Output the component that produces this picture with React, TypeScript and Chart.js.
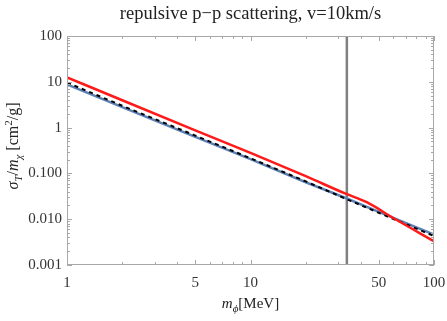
import React, { useEffect, useRef } from "react";
import { Chart, registerables } from "chart.js";
Chart.register(...registerables);

// ---- data ----
const redPhi = [1, 2, 5, 10, 20, 33, 43, 60, 100];
const redVals = [12.5, 3.95, 0.87, 0.28, 0.087, 0.036, 0.0235, 0.0106, 0.0033];
const bluePhi = [1, 2, 5, 10, 20, 33, 50, 100];
const blueVals = [8.8, 2.8, 0.63, 0.205, 0.064, 0.029, 0.0145, 0.0046];
const blackPhi = [1, 2, 5, 10, 20, 33, 50, 100];
const blackVals = [9.6, 3.0, 0.67, 0.214, 0.067, 0.028, 0.0138, 0.0043];
const vLineX = 33.5;
const yRange = [0.001, 100];
const xRange = [1, 100];
const xTicks = [1, 5, 10, 50, 100];
const xTickLabels = ["1", "5", "10", "50", "100"];
const yTicks = [0.001, 0.01, 0.1, 1, 10, 100];
const yTickLabels = ["0.001", "0.010", "0.100", "1", "10", "100"];
const titleText = "repulsive p\u2212p scattering, v=10km/s";

const FAMILY = '"Liberation Serif", "DejaVu Serif", serif';

type Seg = { t: string; it?: boolean; sub?: boolean; sup?: boolean };
const xTitle: Seg[] = [{ t: "m", it: true }, { t: "\u03d5", it: true, sub: true }, { t: "[MeV]" }];
const yTitle: Seg[] = [
  { t: "\u03c3", it: true },
  { t: "T", it: true, sub: true },
  { t: "/" },
  { t: "m", it: true },
  { t: "\u03c7", it: true, sub: true },
  { t: " [cm" },
  { t: "2", sup: true },
  { t: "/g]" },
];

function drawRich(ctx: CanvasRenderingContext2D, segs: Seg[], size: number, cx: number, cy: number) {
  const fontOf = (s: Seg) =>
    `${s.it ? "italic " : ""}${s.sub || s.sup ? Math.round(size * 0.7) : size}px ${FAMILY}`;
  let total = 0;
  const widths = segs.map((s) => {
    ctx.font = fontOf(s);
    const w = ctx.measureText(s.t).width;
    total += w;
    return w;
  });
  let x = cx - total / 2;
  ctx.textBaseline = "alphabetic";
  ctx.textAlign = "left";
  segs.forEach((s, i) => {
    ctx.font = fontOf(s);
    let dy = 0;
    if (s.sub) dy = size * 0.25;
    if (s.sup) dy = -size * 0.4;
    ctx.fillText(s.t, x, cy + size * 0.33 + dy);
    x += widths[i];
  });
}

const framePlugin = {
  id: "frameTicks",
  afterDatasetsDraw(chart: any) {
    const { ctx, chartArea: a, scales } = chart;
    const xs = scales.x;
    const ys = scales.y;
    ctx.save();
    ctx.strokeStyle = "#a8a8a8";
    ctx.lineWidth = 1;
    ctx.strokeRect(a.left + 0.5, a.top + 0.5, a.right - a.left - 1, a.bottom - a.top - 1);
    const major = 5;
    const minor = 3;
    for (let d = 0; d <= 2; d++) {
      for (let m = 1; m <= 9; m++) {
        const v = m * Math.pow(10, d);
        if (v < xRange[0] || v > xRange[1]) continue;
        const px = Math.round(xs.getPixelForValue(v)) + 0.5;
        const len = xTicks.includes(v) ? major : minor;
        ctx.beginPath();
        ctx.moveTo(px, a.bottom);
        ctx.lineTo(px, a.bottom - len);
        ctx.moveTo(px, a.top);
        ctx.lineTo(px, a.top + len);
        ctx.stroke();
      }
    }
    for (let d = -3; d <= 2; d++) {
      for (let m = 1; m <= 9; m++) {
        const v = m * Math.pow(10, d);
        if (v < yRange[0] * 0.999 || v > yRange[1] * 1.001) continue;
        const py = Math.round(ys.getPixelForValue(v)) + 0.5;
        const len = m === 1 ? major : minor;
        ctx.beginPath();
        ctx.moveTo(a.left, py);
        ctx.lineTo(a.left + len, py);
        ctx.moveTo(a.right, py);
        ctx.lineTo(a.right - len, py);
        ctx.stroke();
      }
    }
    ctx.fillStyle = "#222";
    ctx.textAlign = "center";
    ctx.textBaseline = "middle";
    ctx.font = `18.5px ${FAMILY}`;
    ctx.fillText(titleText, (a.left + a.right) / 2, 14);
    drawRich(ctx, xTitle, 15, (a.left + a.right) / 2, 303);
    ctx.translate(13, 146);
    ctx.rotate(-Math.PI / 2);
    drawRich(ctx, yTitle, 16, 0, 0);
    ctx.restore();
  },
};

export default function App() {
  const ref = useRef<HTMLCanvasElement | null>(null);
  useEffect(() => {
    document.body.style.margin = "0";
    if (!ref.current) return;
    const pts = (xs: number[], ys: number[]) => xs.map((x, i) => ({ x, y: ys[i] }));
    const tickFont = { family: FAMILY, size: 15 };
    const chart = new Chart(ref.current, {
      type: "line",
      data: {
        datasets: [
          {
            data: pts(redPhi, redVals),
            borderColor: "#ff1a1a",
            borderWidth: 2.5,
            pointRadius: 0,
            cubicInterpolationMode: "monotone",
          },
          {
            data: pts(blackPhi, blackVals),
            borderColor: "#000000",
            borderWidth: 2,
            borderDash: [4, 4],
            pointRadius: 0,
          },
          {
            data: pts(bluePhi, blueVals),
            borderColor: "#5e81b5",
            borderWidth: 2.5,
            pointRadius: 0,
          },
          {
            data: [
              { x: vLineX, y: yRange[0] },
              { x: vLineX, y: yRange[1] },
            ],
            borderColor: "#808080",
            borderWidth: 2.5,
            pointRadius: 0,
          },
        ],
      } as any,
      options: {
        animation: false,
        responsive: true,
        maintainAspectRatio: false,
        layout: { padding: { top: 36, right: 13, left: 0, bottom: 0 } },
        plugins: { legend: { display: false }, tooltip: { enabled: false }, title: { display: false } },
        scales: {
          x: {
            type: "logarithmic",
            min: xRange[0],
            max: xRange[1],
            grid: { display: false, drawTicks: false },
            border: { display: false },
            ticks: {
              autoSkip: false,
              maxRotation: 0,
              padding: 9,
              color: "#333",
              font: tickFont,
              callback: (v: any) => {
                const i = xTicks.indexOf(Number(v));
                return i >= 0 ? xTickLabels[i] : "";
              },
            },
            afterBuildTicks: (s: any) => {
              s.ticks = xTicks.map((v) => ({ value: v }));
            },
            afterFit: (s: any) => {
              s.height = 56;
              s.paddingLeft = 0;
              s.paddingRight = 0;
            },
          },
          y: {
            type: "logarithmic",
            min: yRange[0],
            max: yRange[1],
            grid: { display: false, drawTicks: false },
            border: { display: false },
            ticks: {
              autoSkip: false,
              padding: 5,
              color: "#333",
              font: tickFont,
              callback: (v: any) => {
                const i = yTicks.findIndex((t) => Math.abs(t - Number(v)) / t < 1e-6);
                return i >= 0 ? yTickLabels[i] : "";
              },
            },
            afterBuildTicks: (s: any) => {
              s.ticks = yTicks.map((v) => ({ value: v }));
            },
            afterFit: (s: any) => {
              s.width = 67;
              s.paddingTop = 0;
              s.paddingBottom = 0;
            },
          },
        },
      } as any,
      plugins: [framePlugin],
    });
    return () => chart.destroy();
  }, []);
  return (
    <div style={{ position: "absolute", left: 0, top: 0, width: 447, height: 321 }}>
      <canvas ref={ref} />
    </div>
  );
}
